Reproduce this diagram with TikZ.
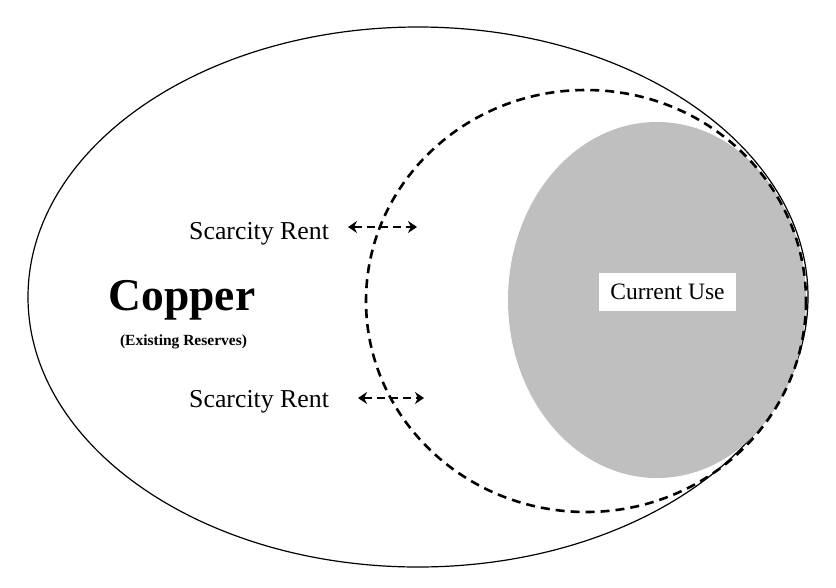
\documentclass[tikz,border=0pt]{standalone}
\usepackage{fontspec}
\setmainfont{Liberation Serif}
\usetikzlibrary{arrows.meta}
\definecolor{usegray}{HTML}{BFBFBF}
\tikzset{
  outerell/.style={draw=black, line width=1.2pt},
  dashell/.style={draw=black, line width=2.6pt, dash pattern=on 9pt off 6pt},
  graybox/.style={fill=usegray, draw=none},
  rentlabel/.style={anchor=base west, inner sep=0pt, font=\fontsize{25.8}{29}\selectfont},
  rentarrow/.style={line width=2.5pt, dash pattern=on 8pt off 5pt,
    {Stealth[length=9pt,width=12pt,inset=3pt]}-{Stealth[length=9pt,width=12pt,inset=3pt]}},
  usebox/.style={fill=white, inner sep=0pt, minimum width=137pt, minimum height=38pt,
    font=\fontsize{23.5}{27}\selectfont}
}
\begin{document}
\begin{tikzpicture}[x=1pt,y=-1pt]
\useasboundingbox (0,0) rectangle (836,587);
\fill[white] (0,0) rectangle (836,587);
% outer ellipse
\draw[outerell] (418,297) ellipse [x radius=390, y radius=270];
% current use (gray)
\fill[graybox] (657,300) ellipse [x radius=149, y radius=178];
% dashed ellipse
\draw[dashell] (586,301) ellipse [x radius=220, y radius=211];
% labels
\node[anchor=base, inner sep=0pt, font=\bfseries\fontsize{45.5}{50}\selectfont] (copper) at (182,310) {Copper};
\node[anchor=base, inner sep=0pt, font=\bfseries\fontsize{15.5}{18}\selectfont] (reserves) at (183.5,345) {(Existing Reserves)};
\node[rentlabel] (rent1) at (189,239) {Scarcity Rent};
\node[rentlabel] (rent2) at (189,407) {Scarcity Rent};
\node[usebox] (use) at (667.5,292) {Current Use};
% arrows
\coordinate (a1l) at (348,227);
\coordinate (a1r) at (417,227);
\coordinate (a2l) at (358,398);
\coordinate (a2r) at (424,398);
\draw[rentarrow] (a1l) -- (a1r);
\draw[rentarrow] (a2l) -- (a2r);
\end{tikzpicture}
\end{document}
